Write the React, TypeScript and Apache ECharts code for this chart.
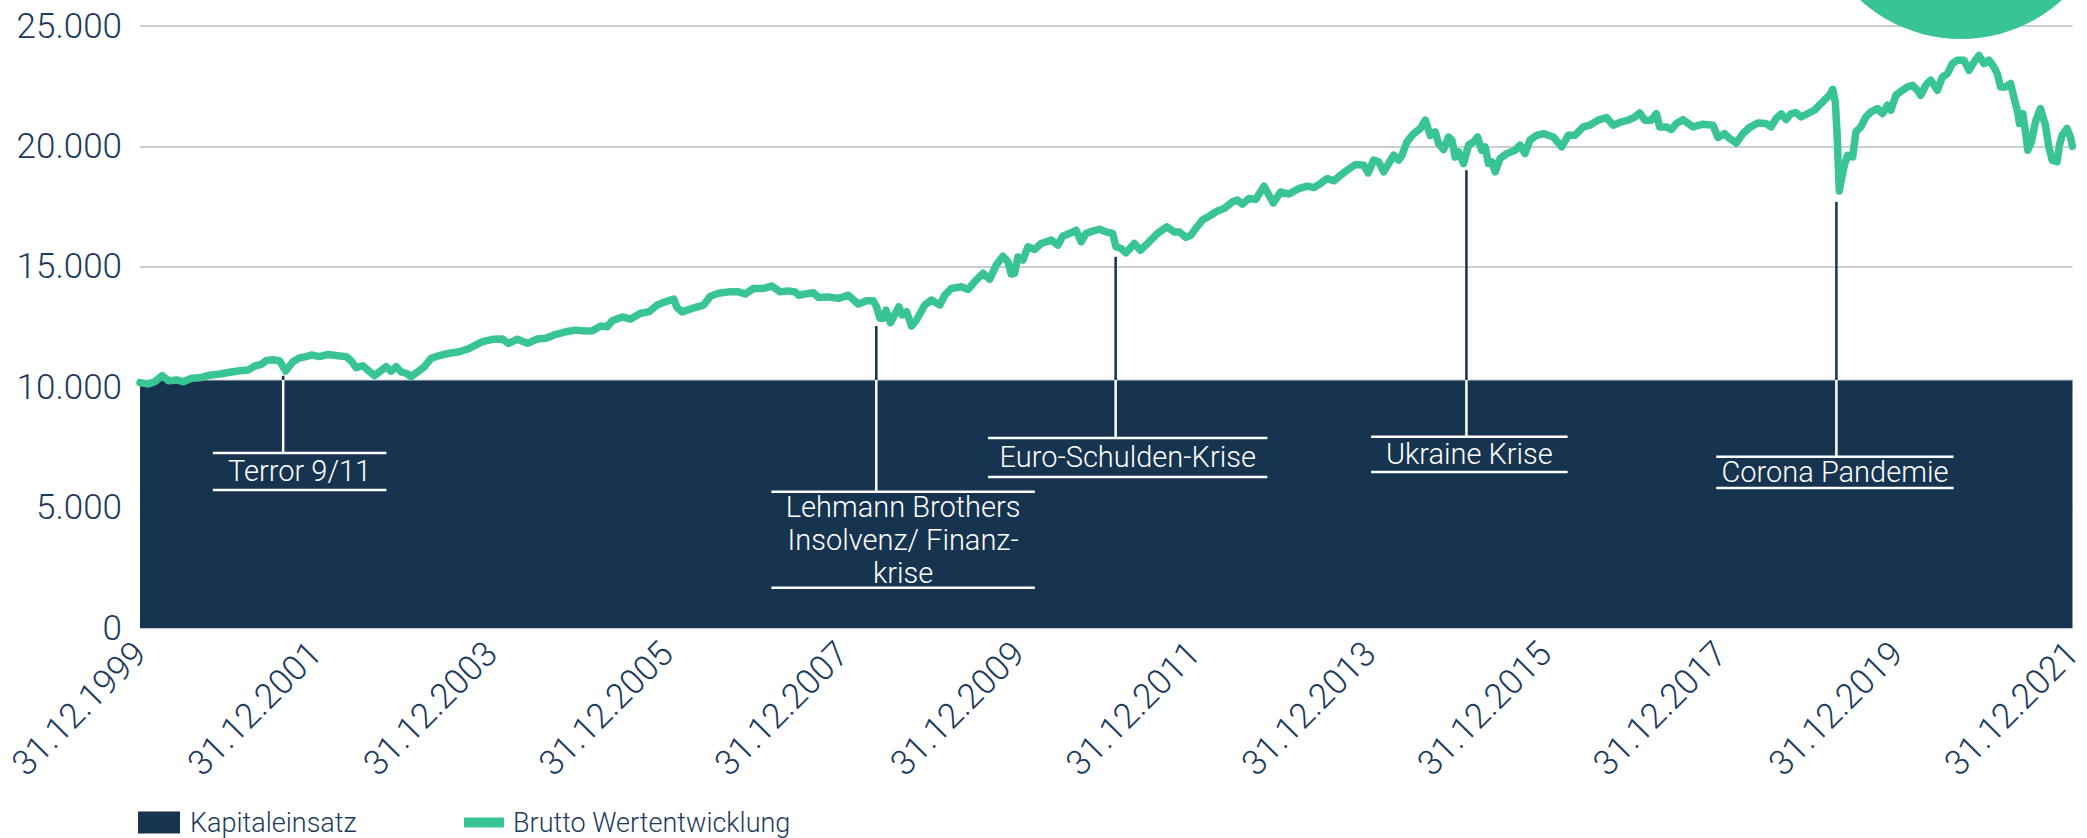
import React, { useEffect, useRef } from "react";
import * as echarts from "echarts";

const NAVY = "#163350";
const GREEN = "#38c493";
const TEXT = "#1d3a5c";
const FONT = "Roboto, 'Noto Sans', sans-serif";

// x axis: decimal years (2000.0 = 31.12.1999)
const tickYears = [2000, 2022];

const kapitalYears = [2000, 2022];
const kapitalValues = [10300, 10300];

const lineYears = [
  2000.000, 2000.094, 2000.170, 2000.253, 2000.322, 2000.417, 2000.492, 2000.587, 2000.681, 2000.795,
  2000.909, 2001.022, 2001.136, 2001.230, 2001.306, 2001.382, 2001.439, 2001.514, 2001.590, 2001.658,
  2001.741, 2001.817, 2001.893, 2001.950, 2002.044, 2002.139, 2002.253, 2002.348, 2002.405, 2002.462,
  2002.537, 2002.594, 2002.670, 2002.726, 2002.802, 2002.859, 2002.916, 2002.973, 2003.029, 2003.086,
  2003.162, 2003.237, 2003.313, 2003.407, 2003.521, 2003.634, 2003.748,
  2003.899, 2004.013, 2004.126, 2004.194, 2004.297, 2004.410, 2004.524, 2004.619, 2004.714, 2004.846,
  2004.960, 2005.073, 2005.149, 2005.244, 2005.319, 2005.376, 2005.490, 2005.584, 2005.698, 2005.792,
  2005.887, 2005.982, 2006.076, 2006.114, 2006.170, 2006.284, 2006.417, 2006.493, 2006.587, 2006.701,
  2006.814, 2006.890, 2006.985, 2007.098, 2007.193, 2007.288, 2007.382, 2007.458,
  2007.496, 2007.572, 2007.666, 2007.723, 2007.836, 2007.950, 2008.064, 2008.177, 2008.272, 2008.347,
  2008.385, 2008.423, 2008.461, 2008.492, 2008.544, 2008.601, 2008.639, 2008.677, 2008.726, 2008.783,
  2008.839, 2008.934, 2009.010, 2009.105, 2009.162, 2009.237, 2009.351, 2009.427, 2009.502, 2009.597,
  2009.673, 2009.748, 2009.824, 2009.881, 2009.918, 2009.957, 2009.994, 2010.051, 2010.108, 2010.184,
  2010.259, 2010.373, 2010.449, 2010.505, 2010.600, 2010.657, 2010.714, 2010.770, 2010.846, 2010.922,
  2010.997, 2011.073, 2011.111, 2011.168, 2011.225,
  2011.320, 2011.388, 2011.471, 2011.584, 2011.690, 2011.774, 2011.831, 2011.906, 2011.963, 2012.019,
  2012.095, 2012.190, 2012.266, 2012.342, 2012.436, 2012.493, 2012.550, 2012.626, 2012.701, 2012.796,
  2012.853, 2012.902, 2012.985, 2013.080, 2013.194, 2013.288, 2013.364, 2013.439, 2013.515, 2013.591,
  2013.666, 2013.742, 2013.837, 2013.932, 2013.981, 2014.045, 2014.102, 2014.158, 2014.215, 2014.272,
  2014.329, 2014.367, 2014.423, 2014.499, 2014.575, 2014.632, 2014.689, 2014.745, 2014.783, 2014.840,
  2014.897, 2014.935, 2014.972,
  2015.011, 2015.068, 2015.124, 2015.181, 2015.227, 2015.275, 2015.313, 2015.351, 2015.389, 2015.427,
  2015.483, 2015.559, 2015.654, 2015.711, 2015.767, 2015.824, 2015.900, 2015.976, 2016.090, 2016.184,
  2016.260, 2016.335, 2016.430, 2016.505, 2016.600, 2016.695, 2016.771, 2016.865, 2016.941, 2017.017,
  2017.073, 2017.130, 2017.206, 2017.263, 2017.300, 2017.376, 2017.433, 2017.490, 2017.566, 2017.680,
  2017.793, 2017.907, 2017.964, 2018.039, 2018.096, 2018.172, 2018.248, 2018.323, 2018.418, 2018.512,
  2018.569, 2018.626, 2018.683,
  2018.739, 2018.796, 2018.853, 2018.910, 2018.986, 2019.061, 2019.118, 2019.175, 2019.232, 2019.270,
  2019.300, 2019.319, 2019.330, 2019.345, 2019.364, 2019.402, 2019.440, 2019.497, 2019.534, 2019.591,
  2019.648, 2019.705, 2019.781, 2019.837, 2019.894, 2019.932, 2019.989, 2020.065, 2020.122, 2020.178,
  2020.235, 2020.273, 2020.330, 2020.386, 2020.462, 2020.519, 2020.576, 2020.632, 2020.689, 2020.765,
  2020.822, 2020.879, 2020.935, 2020.992, 2021.049, 2021.105, 2021.144, 2021.181, 2021.238, 2021.295,
  2021.332, 2021.371, 2021.397, 2021.434, 2021.465, 2021.491, 2021.533, 2021.578, 2021.635, 2021.692,
  2021.730, 2021.768, 2021.825, 2021.851, 2021.882, 2021.938, 2021.976, 2022.000,
];

const lineValues = [
  10190, 10130, 10230, 10480, 10270, 10300, 10230, 10370, 10390, 10500,
  10550, 10620, 10680, 10710, 10880, 10950, 11110, 11140, 11090, 10670,
  11060, 11220, 11270, 11340, 11270, 11360, 11310, 11270, 11090, 10810,
  10890, 10710, 10480, 10640, 10850, 10670, 10850, 10640, 10580, 10440,
  10640, 10850, 11200, 11310, 11410, 11470, 11610,
  11890, 11990, 12000, 11820, 11990, 11820, 12000, 12030, 12170, 12300,
  12370, 12330, 12340, 12540, 12510, 12760, 12920, 12830, 13070, 13130,
  13410, 13550, 13660, 13310, 13130, 13270, 13410, 13780, 13900, 13960,
  13960, 13870, 14100, 14100, 14200, 13960, 14000, 13960,
  13820, 13870, 13920, 13730, 13750, 13690, 13820, 13450, 13590, 13590,
  13340, 12860, 12860, 13200, 12680, 13070, 13340, 13000, 13130, 12540,
  12790, 13410, 13620, 13410, 13820, 14100, 14170, 14060, 14380, 14730,
  14480, 15070, 15440, 15210, 14700, 14730, 15410, 15280, 15830, 15720,
  15970, 16110, 15900, 16270, 16410, 16520, 16040, 16390, 16480, 16560,
  16450, 16390, 15830, 15760, 15580,
  15970, 15690, 15970, 16390, 16660, 16450, 16450, 16220, 16310, 16590,
  16940, 17140, 17320, 17420, 17700, 17770, 17600, 17840, 17800, 18350,
  17970, 17650, 18110, 18020, 18250, 18350, 18290, 18460, 18670, 18570,
  18800, 19010, 19250, 19220, 18900, 19430, 19360, 18940, 19290, 19630,
  19430, 19630, 20190, 20530, 20740, 21090, 20460, 20600, 20120, 19870,
  20390, 20260, 19560,
  19770, 19290, 20050, 20190, 20390, 19840, 19980, 19290, 19360, 18940,
  19500, 19700, 19840, 20050, 19700, 20260, 20460, 20530, 20390, 19980,
  20460, 20460, 20810, 20880, 21090, 21200, 20880, 21020, 21090, 21220,
  21390, 21090, 21090, 21360, 20810, 20810, 20700, 20950, 21110, 20810,
  20920, 20880, 20370, 20530, 20330, 20140, 20530, 20780, 20970, 20950,
  20810, 21160, 21350,
  21120, 21360, 21400, 21220, 21360, 21500, 21710, 21920, 22120, 22370,
  21840, 20600, 19500, 18150, 18530, 19220, 19630, 19560, 20600, 20810,
  21220, 21430, 21570, 21360, 21710, 21500, 22120, 22330, 22470, 22540,
  22330, 22120, 22540, 22750, 22330, 22880, 23020, 23440, 23580, 23580,
  23160, 23500, 23780, 23440, 23580, 23300, 23020, 22470, 22470, 22610,
  22050, 21500, 20950, 21360, 20600, 19840, 20190, 21020, 21570, 20880,
  19980, 19430, 19360, 20050, 20460, 20740, 20390, 20000,
];

// annotations
const eventLabels = [
  "Terror 9/11",
  "Lehmann Brothers\nInsolvenz/ Finanz-\nkrise",
  "Euro-Schulden-Krise",
  "Ukraine Krise",
  "Corona Pandemie",
];
const eventYears = [2001.63, 2008.382, 2011.107, 2015.1, 2019.312];
const eventLineTop = [10476, 12538, 15414, 19011, 17696];
const eventBoxTop = [7269, 5660, 7891, 7945, 7116];
const eventBoxBottom = [5734, 1676, 6273, 6481, 5817];
const eventBoxLeft = [2000.829, 2007.189, 2009.654, 2014.015, 2017.944];
const eventBoxRight = [2002.805, 2010.187, 2012.834, 2016.252, 2020.647];

const yTicks = { min: 0, max: 25000, interval: 5000 };

export default function App() {
  const ref = useRef<HTMLDivElement>(null);

  useEffect(() => {
    document.body.style.margin = "0";
    if (!ref.current) return;
    const chart = echarts.init(ref.current, undefined, { renderer: "svg" });
    const kapital = kapitalValues[0];

    const option: any = {
      animation: false,
      backgroundColor: "#ffffff",
      grid: { left: 140, right: 10, top: 26, bottom: 210, containLabel: false },
      xAxis: {
        type: "value",
        min: tickYears[0],
        max: tickYears[1],
        interval: 2,
        axisLine: { show: false },
        axisTick: { show: false },
        splitLine: { show: false },
        axisLabel: {
          rotate: 45,
          margin: 20,
          color: TEXT,
          fontFamily: FONT,
          fontWeight: 300,
          fontSize: 35,
          formatter: (v: number) => `31.12.${Math.round(v) - 1}`,
        },
      },
      yAxis: {
        type: "value",
        min: yTicks.min,
        max: yTicks.max,
        interval: yTicks.interval,
        axisLine: { show: false },
        axisTick: { show: false },
        splitLine: { show: true, lineStyle: { color: "#c9ced6", width: 2 } },
        axisLabel: {
          margin: 18,
          color: TEXT,
          fontFamily: FONT,
          fontWeight: 300,
          fontSize: 35,
          formatter: (v: number) =>
            v === 0 ? "0" : v.toString().replace(/\B(?=(\d{3})+(?!\d))/g, "."),
        },
      },
      legend: [
        {
          left: 138,
          top: 809,
          padding: 0,
          itemWidth: 42,
          itemHeight: 22,
          selectedMode: false,
          data: [{ name: "Kapitaleinsatz", icon: "rect", itemStyle: { color: NAVY, borderWidth: 0 } }],
          textStyle: { color: TEXT, fontFamily: FONT, fontSize: 27, fontWeight: 300, lineHeight: 26, padding: [0, 0, 0, 5] },
        },
        {
          left: 464,
          top: 809,
          padding: 0,
          itemWidth: 40,
          itemHeight: 10,
          selectedMode: false,
          data: [{ name: "Brutto Wertentwicklung", icon: "rect", itemStyle: { color: GREEN, borderWidth: 0 } }],
          textStyle: { color: TEXT, fontFamily: FONT, fontSize: 27, fontWeight: 300, lineHeight: 26, padding: [0, 0, 0, 4] },
        },
      ],
      graphic: [
        {
          type: "circle",
          shape: { cx: 1961, cy: -111, r: 150 },
          style: { fill: GREEN },
          silent: true,
          z: 10,
        },
      ],
      series: [
        {
          name: "Kapitaleinsatz",
          type: "line",
          data: kapitalYears.map((y, i) => [y, kapitalValues[i]]),
          symbol: "none",
          itemStyle: { color: NAVY },
          lineStyle: { color: "#cfd5dd", width: 1 },
          areaStyle: { color: NAVY, opacity: 1 },
          silent: true,
          z: 1,
        },
        {
          name: "Ereignisse",
          type: "custom",
          silent: true,
          z: 2,
          data: eventYears.map((y, i) => [
            y,
            eventLineTop[i],
            eventBoxTop[i],
            eventBoxBottom[i],
            eventBoxLeft[i],
            eventBoxRight[i],
          ]),
          encode: { x: 0, y: 1 },
          renderItem: (params: any, api: any) => {
            const x = api.value(0);
            const top = api.coord([x, api.value(1)]);
            const cap = api.coord([x, kapital]);
            const bt = api.coord([x, api.value(2)]);
            const bb = api.coord([x, api.value(3)]);
            const lt = api.coord([api.value(4), api.value(2)]);
            const rt = api.coord([api.value(5), api.value(2)]);
            const lb = api.coord([api.value(4), api.value(3)]);
            const rb = api.coord([api.value(5), api.value(3)]);
            return {
              type: "group",
              children: [
                {
                  type: "line",
                  shape: { x1: top[0], y1: top[1], x2: cap[0], y2: cap[1] },
                  style: { stroke: NAVY, lineWidth: 2.5 },
                },
                {
                  type: "line",
                  shape: { x1: cap[0], y1: cap[1], x2: bt[0], y2: bt[1] },
                  style: { stroke: "#ffffff", lineWidth: 2.5 },
                },
                {
                  type: "line",
                  shape: { x1: lt[0], y1: lt[1], x2: rt[0], y2: rt[1] },
                  style: { stroke: "#ffffff", lineWidth: 2.5 },
                },
                {
                  type: "line",
                  shape: { x1: lb[0], y1: lb[1], x2: rb[0], y2: rb[1] },
                  style: { stroke: "#ffffff", lineWidth: 2.5 },
                },
                {
                  type: "text",
                  x: (lt[0] + rt[0]) / 2,
                  y: (bt[1] + bb[1]) / 2,
                  style: {
                    text: eventLabels[params.dataIndex],
                    fill: "#ffffff",
                    fontFamily: FONT,
                    fontWeight: 300,
                    fontSize: 29,
                    lineHeight: 33,
                    align: "center",
                    verticalAlign: "middle",
                  },
                },
              ],
            };
          },
        },
        {
          name: "Brutto Wertentwicklung",
          type: "line",
          data: lineYears.map((y, i) => [y, lineValues[i]]),
          symbol: "none",
          itemStyle: { color: GREEN },
          lineStyle: { color: GREEN, width: 7.5, join: "round", cap: "round" },
          silent: true,
          z: 3,
        },
      ],
    };

    chart.setOption(option);
    return () => chart.dispose();
  }, []);

  return (
    <div
      ref={ref}
      style={{ position: "fixed", left: 0, top: 0, width: 2087, height: 838, background: "#fff" }}
    />
  );
}
